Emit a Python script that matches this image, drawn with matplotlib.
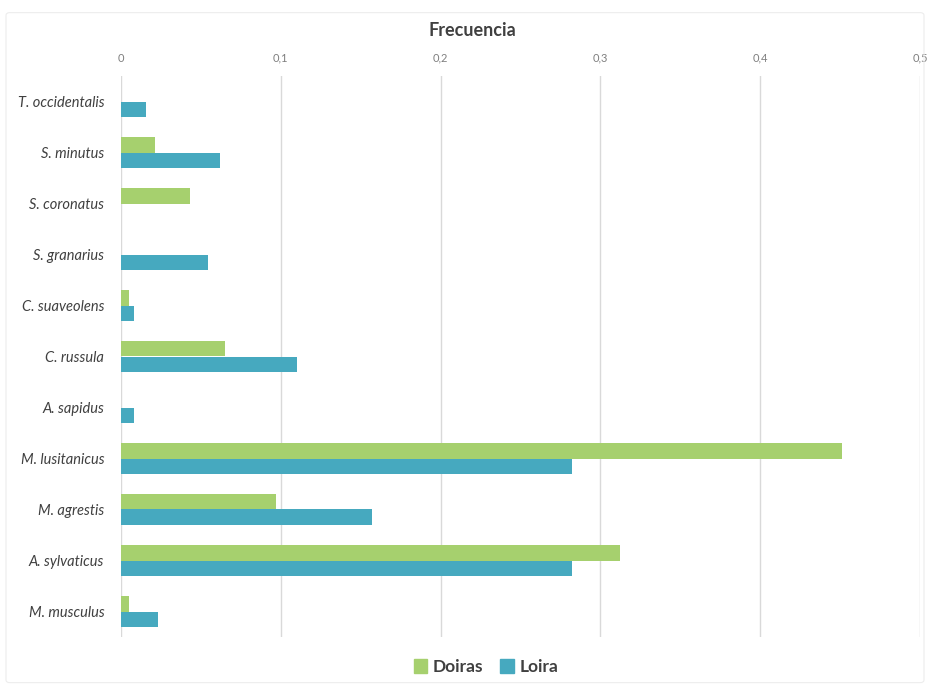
import numpy as np
import matplotlib
matplotlib.use("Agg")
import matplotlib.pyplot as plt
from matplotlib.patches import FancyBboxPatch, Patch
from matplotlib.ticker import FuncFormatter

# Datos
especies = ['T. occidentalis', 'S. minutus', 'S. coronatus', 'S. granarius',
            'C. suaveolens', 'C. russula', 'A. sapidus', 'M. lusitanicus',
            'M. agrestis', 'A. sylvaticus', 'M. musculus']
doiras = [0, 0.0215, 0.043, 0, 0.0052, 0.0648, 0, 0.4514, 0.097, 0.312, 0.0052]
loira = [0.0154, 0.062, 0, 0.0546, 0.0079, 0.11, 0.0079, 0.282, 0.157, 0.282, 0.0231]

col_doiras = '#A6D06E'
col_loira = '#46A9BF'

plt.rcParams['font.family'] = ['Lato', 'DejaVu Sans']

fig = plt.figure(figsize=(9.27, 6.84), dpi=100)
ax = fig.add_axes([121 / 927, 1 - 637 / 684, 799 / 927, 561 / 684])

y = np.arange(len(especies))
h = 0.31
ax.barh(y - h / 2, doiras, height=h, color=col_doiras, zorder=3)
ax.barh(y + h / 2, loira, height=h, color=col_loira, zorder=3)

ax.set_ylim(len(especies) - 0.5, -0.5)
ax.set_xlim(0, 0.5)
ax.set_yticks(y)
ax.set_yticklabels(especies, style='italic', fontsize=10.5, color='#404040')
ax.set_xticks(np.arange(0, 0.51, 0.1))
ax.xaxis.set_major_formatter(FuncFormatter(
    lambda v, p: '0' if v == 0 else ('%.1f' % v).replace('.', ',')))
ax.xaxis.tick_top()
ax.tick_params(axis='x', length=0, labelsize=8, colors='#7f7f7f', pad=9)
ax.tick_params(axis='y', length=0, pad=12)
ax.grid(axis='x', color='#D9D9D9', linewidth=1, zorder=0)
for s in ax.spines.values():
    s.set_visible(False)

fig.text(0.5 + 9 / 927, 1 - 30 / 684, 'Frecuencia', ha='center', va='center',
         fontsize=13, fontweight='bold', color='#404040')

handles = [Patch(color=col_doiras, label='Doiras'), Patch(color=col_loira, label='Loira')]
fig.legend(handles=handles, loc='center', bbox_to_anchor=(486 / 927, 1 - 667 / 684),
           ncol=2, frameon=False, prop={'weight': 'bold', 'size': 12.5},
           labelcolor='#404040', handlelength=0.8, handleheight=0.8,
           handletextpad=0.3, columnspacing=1.0)

# marco del grafico
fig.patches.append(FancyBboxPatch((6 / 927, 0.002), 918 / 927, 1 - 14 / 684,
                                  boxstyle='round,pad=0,rounding_size=0.004',
                                  transform=fig.transFigure, fill=False,
                                  edgecolor='#EDEDED', linewidth=0.8))

fig.savefig('out.png', dpi=100)
